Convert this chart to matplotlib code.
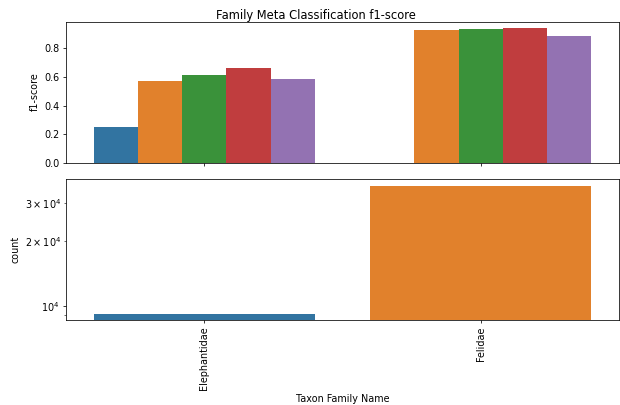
import matplotlib
matplotlib.use("Agg")
import matplotlib.pyplot as plt
import numpy as np

families = ["Elephantidae", "Felidae"]
hue_levels = ["run_1", "run_2", "run_3", "run_4", "run_5"]
f1_elephantidae = [0.252, 0.571, 0.613, 0.660, 0.585]
f1_felidae = [np.nan, 0.933, 0.937, 0.942, 0.886]
counts = [9180, 36200]

palette = ["#3274a1", "#e1812c", "#3a923a", "#c03d3e", "#9372b2"]

DPI = 69
fig = plt.figure(figsize=(620 / DPI, 405 / DPI), dpi=DPI)
ax1 = fig.add_axes([66 / 620, 1 - 162.7 / 405, 553 / 620, (162.7 - 21.5) / 405])
ax2 = fig.add_axes([66 / 620, 1 - 320 / 405, 553 / 620, (320 - 179.3) / 405], sharex=ax1)

x = np.arange(len(families))
n = len(hue_levels)
w = 0.8 / n
f1 = np.array([f1_elephantidae, f1_felidae])
for i, lvl in enumerate(hue_levels):
    offs = -0.4 + w * (i + 0.5)
    ax1.bar(x + offs, f1[:, i], width=w, color=palette[i], label=lvl)
ax1.set_ylabel("f1-score")
ax1.tick_params(axis="x", labelbottom=False)

ax2.bar(x, counts, width=0.8, color=palette[:len(families)])
ax2.set_yscale("log")
ax2.set_ylabel("count")
ax2.set_xlabel("Taxon Family Name")
ax2.set_xticks(x)
ax2.set_xticklabels(families, rotation=90)
ax2.set_xlim(-0.5, 1.5)

fig.suptitle("Family Meta Classification f1-score", x=315.5 / 620, y=1 - 16 / 405, va="center")

fig.savefig("out.png", dpi=DPI)
